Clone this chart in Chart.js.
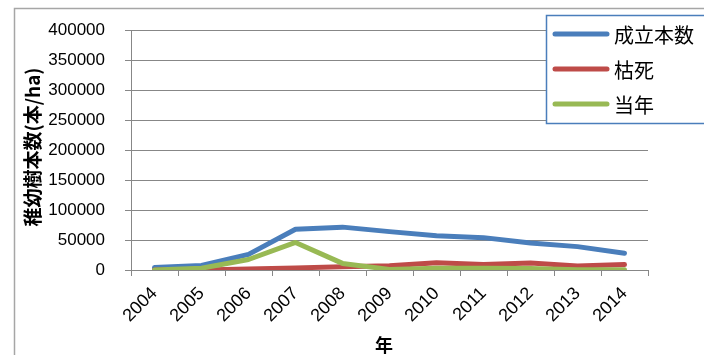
<!DOCTYPE html>
<html>
<head>
<meta charset="utf-8">
<script src="https://cdn.jsdelivr.net/npm/chart.js@4/dist/chart.umd.min.js"></script>
<style>
  html, body { margin: 0; padding: 0; background: #ffffff; }
  #wrap { width: 704px; height: 355px; position: relative; }
</style>
</head>
<body>
<div id="wrap"><canvas id="c" width="704" height="355"></canvas></div>
<script>
// 調査年
const years = ['2004','2005','2006','2007','2008','2009','2010','2011','2012','2013','2014'];
// 稚幼樹本数 (本/ha)
const seriesNames = ['成立本数', '枯死', '当年'];
const standing = [4000, 7500, 26000, 68000, 71500, 64000, 57000, 54000, 45000, 39000, 28000];
const dead     = [0, 0, 1500, 3500, 5500, 7000, 12000, 9000, 11500, 6500, 9000];
const newborn  = [0, 3000, 17500, 46000, 11000, 1000, 3000, 3000, 2500, 500, 500];
const yTicks   = [0, 50000, 100000, 150000, 200000, 250000, 300000, 350000, 400000];
const yTitle = '稚幼樹本数(本/ha)';
const xTitle = '年';

const colors = ['#4a7ebb', '#be4b48', '#98b954'];
const gridColor = '#878787';
const yTickFont = { family: "'Liberation Sans', sans-serif", size: 17 };
const xTickFont = { family: "'Liberation Sans', sans-serif", size: 18 };
const cjkFont = "'Noto Sans CJK JP', sans-serif";

// 枠・凡例・軸タイトル
const decorations = {
  id: 'decorations',
  beforeDraw(chart) {
    const ctx = chart.ctx;
    ctx.save();
    ctx.fillStyle = '#ffffff';
    ctx.fillRect(0, 0, chart.width, chart.height);
    ctx.strokeStyle = '#a6a6a6';
    ctx.lineWidth = 1.5;
    ctx.strokeRect(14.5, 8.5, chart.width + 20, chart.height + 20);
    ctx.restore();
  },
  afterDraw(chart) {
    const ctx = chart.ctx;
    const area = chart.chartArea;
    ctx.save();
    // 凡例
    ctx.fillStyle = '#ffffff';
    ctx.fillRect(546, 15, 200, 108);
    ctx.strokeStyle = '#4a7ebb';
    ctx.lineWidth = 1.5;
    ctx.strokeRect(546.5, 15.5, 200, 108);
    chart.data.datasets.forEach((ds, i) => {
      const y = 34 + i * 35;
      ctx.strokeStyle = ds.borderColor;
      ctx.lineWidth = 5;
      ctx.lineCap = 'round';
      ctx.beginPath();
      ctx.moveTo(555, y);
      ctx.lineTo(607, y);
      ctx.stroke();
      ctx.fillStyle = '#000000';
      ctx.font = '20px ' + cjkFont;
      ctx.textAlign = 'left';
      ctx.textBaseline = 'middle';
      ctx.fillText(ds.label, 614, y + 1);
    });
    // 軸タイトル
    ctx.fillStyle = '#000000';
    ctx.font = 'bold 19px ' + cjkFont;
    ctx.textAlign = 'center';
    ctx.textBaseline = 'middle';
    ctx.save();
    ctx.translate(33, 147);
    ctx.rotate(-Math.PI / 2);
    ctx.fillText(yTitle, 0, 0);
    ctx.restore();
    ctx.font = 'bold 18px ' + cjkFont;
    ctx.fillText(xTitle, 384, 345);
    ctx.restore();
  }
};

const values = [standing, dead, newborn];
new Chart(document.getElementById('c'), {
  type: 'line',
  data: {
    labels: years,
    datasets: seriesNames.map((name, i) => ({
      label: name,
      data: values[i],
      borderColor: colors[i],
      backgroundColor: colors[i],
      borderWidth: 5,
      borderCapStyle: 'round',
      borderJoinStyle: 'round',
      pointRadius: 0,
      tension: 0,
      order: 3 - i
    }))
  },
  options: {
    responsive: false,
    animation: false,
    devicePixelRatio: 1,
    layout: { padding: { top: 24, right: 56, bottom: 0, left: 0 } },
    plugins: { legend: { display: false }, tooltip: { enabled: false } },
    scales: {
      x: {
        type: 'category',
        offset: true,
        grid: { display: true, drawOnChartArea: false, drawTicks: true, tickLength: 6, offset: true, color: gridColor, lineWidth: 1 },
        border: { color: gridColor, width: 1 },
        ticks: { color: '#000000', font: xTickFont, minRotation: 45, maxRotation: 45, padding: 7, autoSkip: false },
        afterFit(scale) { scale.height = 85; }
      },
      y: {
        min: 0,
        max: 400000,
        afterBuildTicks(scale) { scale.ticks = yTicks.map(v => ({ value: v })); },
        grid: { color: gridColor, lineWidth: 1, drawTicks: true, tickLength: 6 },
        border: { color: gridColor, width: 1 },
        ticks: { color: '#000000', font: yTickFont, padding: 20, callback: v => String(v) },
        afterFit(scale) { scale.width = 131; }
      }
    }
  },
  plugins: [decorations]
});
</script>
</body>
</html>
